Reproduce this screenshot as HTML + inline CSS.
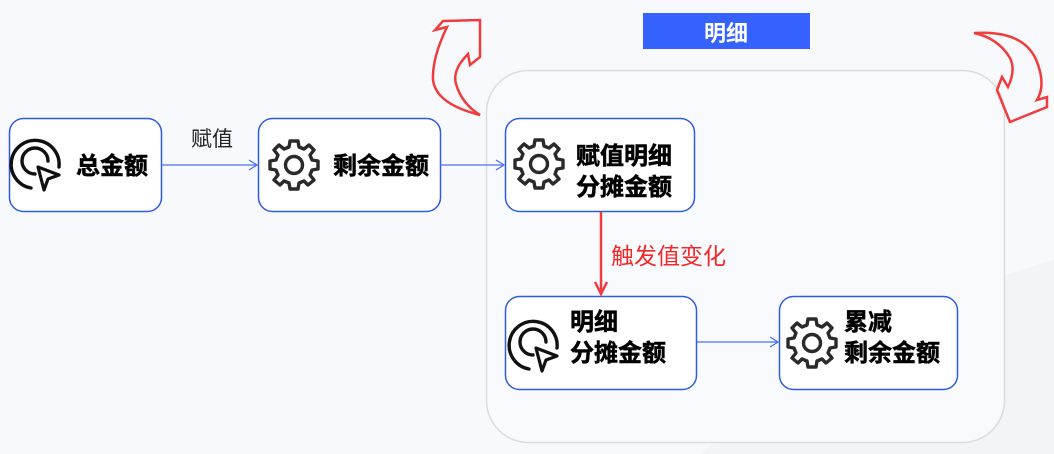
<!DOCTYPE html>
<html><head><meta charset="utf-8"><style>
body{margin:0;width:1054px;height:454px;overflow:hidden;background:#f8f9fd;font-family:"Liberation Sans","Noto Sans CJK SC",sans-serif}
</style></head><body>
<svg width="1054" height="454" viewBox="0 0 1054 454" xmlns="http://www.w3.org/2000/svg" style="position:absolute;left:0;top:0">
<defs>
<g id="gear"><path d="M-4,-22 L4,-22 L5,-16 L10,-14 L15,-18 L20,-13 L16,-8 L18,-3 L24,-2 L24,6 L18,7 L16,12 L20,17 L14,22 L10,18 L5,20 L4,26 L-4,26 L-5,20 L-10,18 L-14,22 L-20,17 L-16,12 L-18,7 L-24,6 L-24,-2 L-18,-3 L-16,-8 L-20,-13 L-15,-18 L-10,-14 L-5,-16 Z" transform="translate(0,-2)" fill="none" stroke="#2a2a2a" stroke-width="3.4" stroke-linejoin="round"/><circle r="8.5" fill="none" stroke="#2a2a2a" stroke-width="3.4"/></g>
<g id="clk"><path d="M22,4 A24,24 0 1 0 -6,25" fill="none" stroke="#111" stroke-width="3.4" stroke-linecap="round"/><path d="M-2,11 A13,13 0 1 1 11,-2" fill="none" stroke="#111" stroke-width="3.4" stroke-linecap="round"/><path d="M1,4 L22,12 L11,16 L7,27 Z" fill="none" stroke="#111" stroke-width="3.2" stroke-linejoin="round"/></g>
</defs>
<path d="M700,454 Q900,300 1054,260 L1054,454 Z" fill="#f3f4f8"/>
<rect x="486.5" y="70.5" width="518" height="372" rx="42" fill="#f9fafd" stroke="#dcdcdc" stroke-width="1.5"/>
<rect x="643" y="13" width="167" height="36" fill="#3561fd"/>
<text x="726" y="41" font-size="22" font-weight="bold" fill="#fff" text-anchor="middle">明细</text>
<g fill="#fff" stroke="#2d5be3" stroke-width="1.5">
<rect x="9.5" y="118.5" width="152" height="93" rx="14"/>
<rect x="258.5" y="118.5" width="182" height="93" rx="14"/>
<rect x="505.5" y="118.5" width="189" height="93" rx="14"/>
<rect x="505.5" y="296.5" width="191" height="93" rx="14"/>
<rect x="779.5" y="296.5" width="178" height="93" rx="14"/>
</g>
<use href="#clk" x="37" y="163"/>
<use href="#gear" x="294" y="165"/>
<use href="#gear" x="539" y="164"/>
<use href="#clk" x="535" y="344"/>
<use href="#gear" x="812" y="343"/>
<g font-size="24" font-weight="bold" fill="#000" stroke="#000" stroke-width="0.5">
<text x="76" y="174">总金额</text>
<text x="333" y="174">剩余金额</text>
<text x="576" y="164">赋值明细</text>
<text x="576" y="195">分摊金额</text>
<text x="570" y="330">明细</text>
<text x="570" y="361">分摊金额</text>
<text x="844" y="330">累减</text>
<text x="844" y="361">剩余金额</text>
</g>
<text x="191" y="146" font-size="21" fill="#222">赋值</text>
<text x="611" y="264" font-size="23" fill="#f02a2a">触发值变化</text>
<g stroke="#4a72f5" stroke-width="1.3" fill="none">
<line x1="161" y1="165" x2="257" y2="165"/><path d="M249,160 L257,165 L249,170"/>
<line x1="440" y1="165" x2="504" y2="165"/><path d="M496,160 L504,165 L496,170"/>
<line x1="697" y1="342" x2="778" y2="342"/><path d="M770,337 L778,342 L770,347"/>
</g>
<g stroke="#f03c3c" stroke-width="2.5" fill="none">
<line x1="601" y1="212" x2="601" y2="293"/><path d="M595,282 L601,294 L607,282"/>
<path d="M480,20 L480,57 L470,65 L468,54 Q452,70 456,84 Q462,104 480,115 Q436,104 433,80 Q432,58 447,27 L435,30 L443,21 Z" stroke-linejoin="miter"/>
<path d="M974,33 Q1025,30 1037,62 Q1046,85 1037,100 L1047,97 L1047,107 L1010,122 L997,90 L1002,77 L1008,87 Q1016,70 1010,58 Q998,38 974,33 Z"/>
</g>
</svg>
</body></html>
